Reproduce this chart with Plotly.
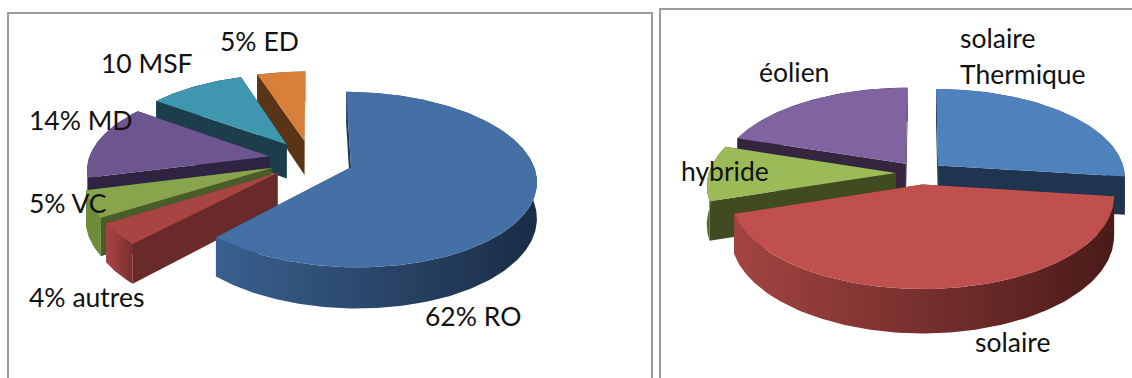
import numpy as np
import plotly.graph_objects as go

# Desalination processes (share in %), clockwise from twelve o'clock
process_names = ["RO", "autres", "VC", "MD", "MSF", "ED"]
process_share = [62, 4, 5, 14, 10, 5]

# Energy sources (estimated share in %), clockwise from twelve o'clock
energy_names = ["solaire Thermique", "solaire", "hybride", "éolien"]
energy_share = [27, 43, 10, 20]

# Per-slice colours: top face, cut face, wall gradient (near left, far right)
PROCESS_COLOURS = {
    "RO": ("#4470A6", "#1F3552", "#3A608F", "#1A2C45"),
    "autres": ("#A84543", "#6A2A2A", "#A84543", "#7A2F2E"),
    "VC": ("#88A44D", "#4A5C2A", "#6F8C3C", "#6F8C3C"),
    "MD": ("#6D5590", "#2E2340", "#2E2340", "#2E2340"),
    "MSF": ("#3F96AF", "#1B3D4C", "#1B3D4C", "#1B3D4C"),
    "ED": ("#D8803A", "#5A3416", "#5A3416", "#5A3416"),
}
ENERGY_COLOURS = {
    "solaire Thermique": ("#4F81BD", "#1F344F", "#1F344F", "#1F344F"),
    "solaire": ("#C0504D", "#4A1F1E", "#A34442", "#4A1B19"),
    "hybride": ("#9BBB59", "#414B21", "#566B2C", "#414B21"),
    "éolien": ("#8064A2", "#35253F", "#35253F", "#35253F"),
}

# Projection of each pie: centre, radius, foreshortening, perspective, thickness, explosion
PROCESS_VIEW = dict(cx=311, cy=160, rx=181, ry=84, k=0.138, depth=35, explode=0.235)
ENERGY_VIEW = dict(cx=920, cy=173, rx=187, ry=88, k=0.127, depth=38, explode=0.13)

# Painter's order: far slices first
PROCESS_ORDER = ["ED", "MSF", "MD", "VC", "autres", "RO"]
ENERGY_ORDER = ["éolien", "solaire Thermique", "hybride", "solaire"]

FONT = dict(family="Lato", size=26.5, color="#111111")


def project(u, v, view, drop=False):
    """Map ground-plane coordinates to the page, optionally on the underside."""
    u, v = np.asarray(u, float), np.asarray(v, float)
    scale = 1 / (1 - view["k"] * v)
    x = view["cx"] + view["rx"] * u * scale
    y = view["cy"] + view["ry"] * v * scale
    if drop:
        y = y + view["depth"] * scale
    return x, y


def polygon(x, y, colour, name, gradient=None):
    style = dict(fillcolor=colour) if gradient is None else dict(
        fillgradient=dict(type="horizontal", colorscale=[[0, gradient[0]], [1, gradient[1]]])
    )
    return go.Scatter(
        x=x, y=y, name=name, mode="lines", fill="toself", line=dict(width=0),
        hoverinfo="name", showlegend=False, **style,
    )


def add_pie(fig, names, shares, colours, order, view):
    total = sum(shares)
    edges = np.cumsum([0] + list(shares)) / total * 2 * np.pi
    spans = {n: (edges[i], edges[i + 1]) for i, n in enumerate(names)}
    for name in order:
        a0, a1 = spans[name]
        mid = (a0 + a1) / 2
        ou, ov = view["explode"] * np.sin(mid), -view["explode"] * np.cos(mid)
        theta = np.linspace(a0, a1, max(8, int(np.degrees(a1 - a0))))
        u, v = ou + np.sin(theta), ov - np.cos(theta)
        top, cut, wall_a, wall_b = colours[name]

        # Cut faces hanging from the two straight edges
        for i in (0, -1):
            fu, fv = np.array([ou, u[i]]), np.array([ov, v[i]])
            tx, ty = project(fu, fv, view)
            bx, by = project(fu, fv, view, drop=True)
            fig.add_trace(polygon(np.r_[tx, bx[::-1]], np.r_[ty, by[::-1]], cut, name))

        # Outer wall along the rim
        tx, ty = project(u, v, view)
        bx, by = project(u, v, view, drop=True)
        fig.add_trace(polygon(np.r_[tx, bx[::-1]], np.r_[ty, by[::-1]], wall_a, name,
                              gradient=(wall_a, wall_b)))

        # Top face
        px, py = project(np.r_[ou, u, ou], np.r_[ov, v, ov], view)
        fig.add_trace(polygon(px, py, top, name))


fig = go.Figure()
add_pie(fig, process_names, process_share, PROCESS_COLOURS, PROCESS_ORDER, PROCESS_VIEW)
add_pie(fig, energy_names, energy_share, ENERGY_COLOURS, ENERGY_ORDER, ENERGY_VIEW)

# Text labels: x of the left edge, y of the line centre, both in page pixels
labels = [
    ("5% ED", 220, 41), ("10 MSF", 101, 63), ("14% MD", 29, 120), ("5% VC", 29, 203),
    ("4% autres", 29, 297), ("62% RO", 425, 316),
    ("solaire", 960, 38), ("Thermique", 960, 74), ("éolien", 759, 72), ("hybride", 681, 171),
    ("solaire", 975, 342),
]
for text, x, y in labels:
    fig.add_annotation(x=x, y=y, text=text, showarrow=False, xanchor="left", yanchor="middle",
                       align="left", font=FONT, xshift=-2)

# Chart-area frames, both running off the page
frame = dict(color="#9C9C9C", width=2)
for x0, x1, y0 in [(8, 652, 13), (660, 1140, 9)]:
    fig.add_shape(type="rect", x0=x0, x1=x1, y0=y0, y1=390, line=frame, layer="above")

fig.update_layout(
    width=1132, height=378, margin=dict(l=0, r=0, t=0, b=0),
    paper_bgcolor="white", plot_bgcolor="white", showlegend=False,
    xaxis=dict(range=[0, 1132], visible=False, fixedrange=True),
    yaxis=dict(range=[378, 0], visible=False, fixedrange=True),
)
fig.write_html("out.html", config={"displayModeBar": False})
